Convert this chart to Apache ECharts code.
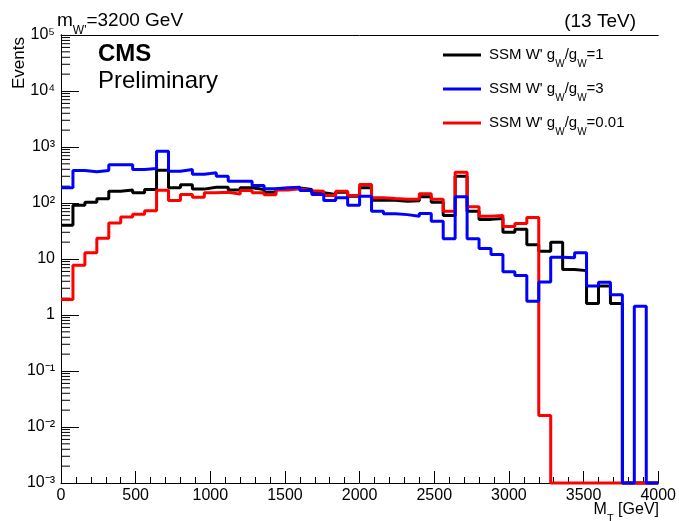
<!DOCTYPE html>
<html>
<head>
<meta charset="utf-8">
<script src="https://cdn.jsdelivr.net/npm/echarts@6/dist/echarts.min.js"></script>
<style>html,body{margin:0;padding:0;background:#fff}#c{width:679px;height:521px}#err{position:absolute;left:70px;top:380px;width:580px;font:11px sans-serif;color:#c00}</style>
</head>
<body>
<div id="c"></div>
<div id="err"></div>
<script>
var errs = [];
function report(m) { errs.push(m); document.getElementById('err').textContent = errs.join(' | '); }
window.addEventListener('error', function (ev) { report('ERR ' + ev.message); });

// Bin width (GeV) and bin left edges: 50 bins from 0 to 4000 GeV
var BIN = 80;
var X_MIN = 0, X_MAX = 4000;
var Y_MIN = 0.001, Y_MAX = 100000;

// Series values (events per bin)
var seriesNames = ["SSM W' gW/gW=1", "SSM W' gW/gW=3", "SSM W' gW/gW=0.01"];
var valuesG1 = [40, 91, 103, 119, 162, 170, 152, 174, 385, 187,
                211, 177, 191, 191, 170, 187, 174, 156, 178, 185,
                174, 152, 142, 156, 132, 187, 112, 112, 107, 110,
                129, 103, 60, 301, 71, 51, 53, 30, 34, 18,
                13.8, 20, 6.5, 6.2, 1.6, 3.3, 1.6, 0, 0, 0];
var valuesG3 = [187, 380, 360, 380, 480, 480, 395, 415, 840, 370,
                395, 327, 347, 300, 245, 245, 205, 180, 187, 191,
                167, 142, 111, 124, 91, 132, 71, 64, 62, 58,
                65, 47, 23, 129, 23, 15.4, 12, 5.9, 5.1, 1.76,
                3.9, 10.8, 10.5, 12.9, 3.3, 3.85, 2.3, 0, 1.44, 0];
var valuesG001 = [1.9, 7.7, 12.9, 23.5, 44, 56, 63, 73, 169, 111,
                  142, 127, 152, 156, 144, 167, 152, 140, 170, 179,
                  165, 162, 136, 162, 136, 214, 124, 120, 117, 117,
                  146, 117, 71, 355, 86, 58, 60, 38, 43, 55,
                  0.016, 0, 0, 0, 0, 0, 0, 0, 0, 0];

var SUP = { '0': '\u2070', '1': '\u00B9', '2': '\u00B2', '3': '\u00B3', '4': '\u2074', '5': '\u2075', '-': '\u207B' };
function decadeLabel(ex) {
  if (ex === 0) return '1';
  if (ex === 1) return '10';
  return '10' + String(ex).split('').map(function (c) { return SUP[c]; }).join('');
}

function toSteps(vals) {
  var d = vals.map(function (v, i) { return [i * BIN, v > 0 ? v : Y_MIN]; });
  var last = vals[vals.length - 1];
  d.push([X_MAX, last > 0 ? last : Y_MIN]);
  return d;
}

// minor tick positions on the log axis (2..9 x 10^k)
var minorTicks = [];
for (var e = -3; e < 5; e++) {
  for (var m = 2; m <= 9; m++) minorTicks.push([X_MIN, m * Math.pow(10, e)]);
}

var FONT = 'Liberation Sans, Arial, Helvetica, sans-serif';
var legendRich = {
  p: { width: 3, fontSize: 15, lineHeight: 16, verticalAlign: 'top' },
  t: { fontSize: 15, color: '#000', lineHeight: 16, verticalAlign: 'top' },
  s: { fontSize: 10, color: '#000', lineHeight: 10, padding: [12, 0, 0, 0], verticalAlign: 'top' }
};
var legendText = {};
legendText[seriesNames[0]] = "{p| }{t|SSM W' g}{s|W}{t|/g}{s|W}{t|=1}";
legendText[seriesNames[1]] = "{p| }{t|SSM W' g}{s|W}{t|/g}{s|W}{t|=3}";
legendText[seriesNames[2]] = "{p| }{t|SSM W' g}{s|W}{t|/g}{s|W}{t|=0.01}";

function histSeries(name, vals, col) {
  return { type: 'line', name: name, step: 'end', showSymbol: false, clip: false,
    data: toSteps(vals), itemStyle: { color: col }, lineStyle: { color: col, width: 3 } };
}

var chart = echarts.init(document.getElementById('c'));

// Stage 1: axes, histograms, minor ticks
var core = {
  animation: false,
  grid: { left: 61, right: 20, top: 35, bottom: 38 },
  xAxis: [{
    type: 'value', min: X_MIN, max: X_MAX, interval: 500,
    axisLine: { show: true, onZero: false, lineStyle: { color: '#000' } },
    axisTick: { show: true, inside: true, length: 12, lineStyle: { color: '#000' } },
    minorTick: { show: true, splitNumber: 5, length: 6, lineStyle: { color: '#000' } },
    splitLine: { show: false },
    axisLabel: { color: '#000', fontSize: 16, fontFamily: FONT, margin: 5,
      formatter: function (v) { return String(v); } }
  }, {
    type: 'value', min: X_MIN, max: X_MAX, position: 'top',
    axisLine: { show: true, onZero: false, lineStyle: { color: '#000' } },
    axisTick: { show: false }, axisLabel: { show: false }, splitLine: { show: false }
  }],
  yAxis: [{
    type: 'log', min: Y_MIN, max: Y_MAX, interval: 1,
    axisLine: { show: true, lineStyle: { color: '#000' } },
    axisTick: { show: true, inside: true, length: 18, lineStyle: { color: '#000' } },
    splitLine: { show: false },
    axisLabel: {
      color: '#000', fontSize: 16, fontFamily: FONT, margin: 6,
      formatter: function (v) { return decadeLabel(Math.round(Math.log(v) / Math.LN10)); }
    }
  }, {
    type: 'log', min: Y_MIN, max: Y_MAX, position: 'right',
    axisLine: { show: true, lineStyle: { color: '#000' } },
    axisTick: { show: false }, axisLabel: { show: false }, splitLine: { show: false }
  }],
  series: [
    histSeries(seriesNames[0], valuesG1, '#000000'),
    histSeries(seriesNames[2], valuesG001, '#ff0000'),
    histSeries(seriesNames[1], valuesG3, '#0000ff'),
    {
      type: 'custom', data: minorTicks,
      renderItem: function (params, api) {
        try {
          var p = api.coord([api.value(0), api.value(1)]);
          return { type: 'line', shape: { x1: p[0], y1: p[1], x2: p[0] + 9, y2: p[1] }, style: { stroke: '#000', lineWidth: 1 } };
        } catch (err) { report('RI ' + err); return null; }
      }
    }
  ]
};
try { chart.setOption(core); } catch (err) { report('S1 ' + err); }

// Stage 2: legend
try {
  chart.setOption({
    legend: {
      data: [
        { name: seriesNames[0], icon: 'rect' },
        { name: seriesNames[1], icon: 'rect' },
        { name: seriesNames[2], icon: 'rect' }
      ],
      orient: 'vertical', left: 443, top: 47, padding: 0,
      itemWidth: 38, itemHeight: 3, itemGap: 12,
      selectedMode: false,
      formatter: function (n) { return legendText[n]; },
      textStyle: { rich: legendRich, fontFamily: FONT, fontSize: 15, color: '#000' }
    }
  });
} catch (err) { report('S2 ' + err); }

// Stage 3: titles and axis names
try {
  chart.setOption({
    graphic: [
      { type: 'text', left: 57, top: 11, style: {
          text: "{a|m}{b|W'}{a|=3200 GeV}", rich: {
            a: { fontSize: 19, fontFamily: FONT, color: '#000', lineHeight: 20, verticalAlign: 'top' },
            b: { fontSize: 12, fontFamily: FONT, color: '#000', lineHeight: 12, padding: [14, 0, 0, 0], verticalAlign: 'top' } } } },
      { type: 'text', right: 43, top: 12, style: { text: '(13 TeV)', font: '19px ' + FONT, fill: '#000' } },
      { type: 'text', left: 98, top: 42, style: { text: 'CMS', font: 'bold 24px ' + FONT, fill: '#000' } },
      { type: 'text', left: 98, top: 69, style: { text: 'Preliminary', font: '24px ' + FONT, fill: '#000' } },
      { type: 'text', x: 19, y: 37, rotation: Math.PI / 2, style: { text: 'Events', font: '17px ' + FONT, fill: '#000', align: 'right', verticalAlign: 'middle', textAlign: 'right', textVerticalAlign: 'middle' } },
      { type: 'text', right: 20, top: 502, style: {
          text: '{a|M}{b|T}{a| [GeV]}', rich: {
            a: { fontSize: 16, fontFamily: FONT, color: '#000', lineHeight: 17, verticalAlign: 'top' },
            b: { fontSize: 11, fontFamily: FONT, color: '#000', lineHeight: 11, padding: [11, 0, 0, 0], verticalAlign: 'top' } } } }
    ]
  });
} catch (err) { report('S3 ' + err); }
</script>
</body>
</html>
